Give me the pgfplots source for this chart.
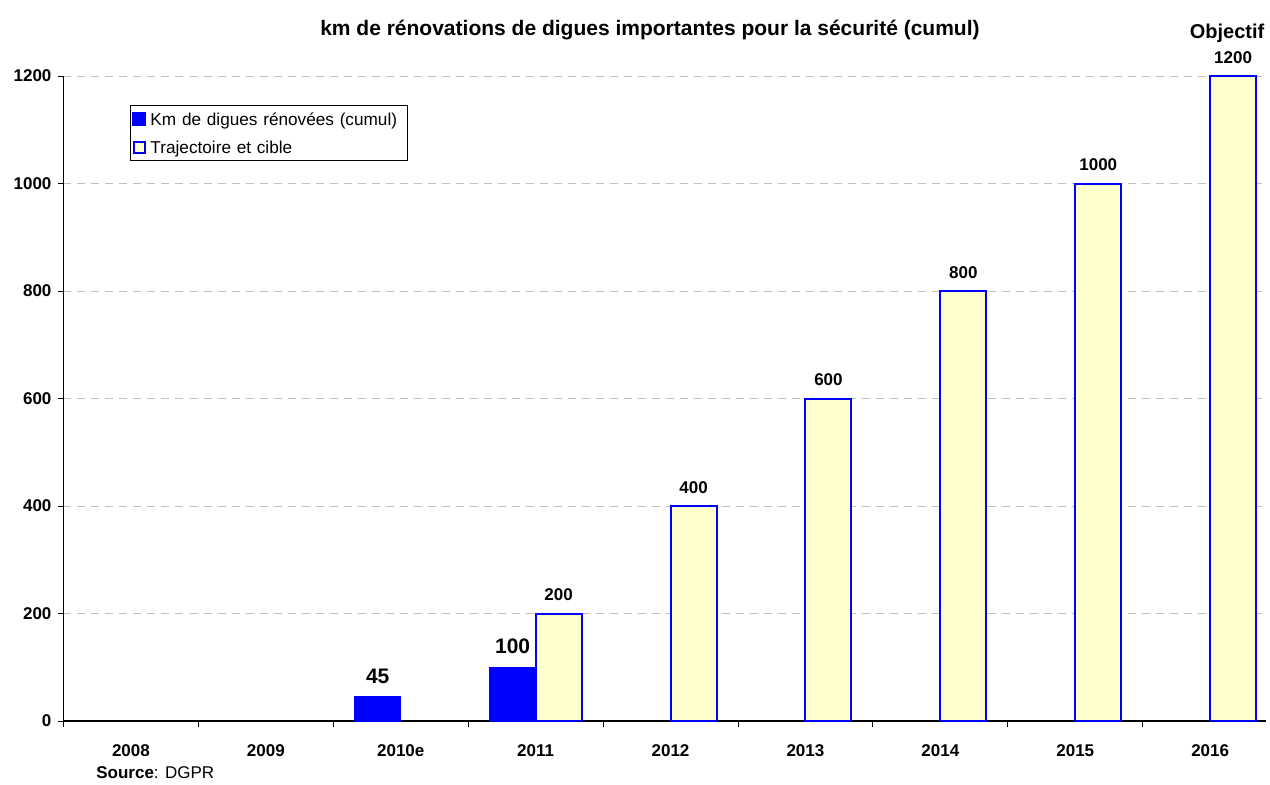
\documentclass[border=0pt]{standalone}
\usepackage{pgfplots}
\pgfplotsset{compat=1.18}
\usepackage{fontspec}
\setmainfont{Liberation Sans}
\definecolor{barblue}{RGB}{0,0,255}
\definecolor{baryellow}{RGB}{255,255,204}
\definecolor{gridgray}{RGB}{192,192,192}
\begin{document}
\begin{tikzpicture}
\begin{axis}[
  x=67.45pt, y=0.26875pt,
  xmin=-0.5, xmax=8.414, ymin=0, ymax=1200,
  axis x line*=bottom, axis y line*=left,
  axis line style={black, line width=0.6pt},
  ybar=0pt, bar width=23pt,
  ytick={0,200,...,1200},
  ymajorgrids, grid style={gridgray, dash pattern=on 4pt off 3pt, line width=0.5pt},
  xtick={0,...,8},
  xticklabels={2008,2009,2010e,2011,2012,2013,2014,2015,2016},
  minor xtick={-0.5,0.5,...,7.5},
  major x tick style={draw=none},
  tick align=outside,
  major tick length=2.5pt, minor tick length=3pt,
  tick style={black, line width=0.5pt},
  xtick pos=bottom, ytick pos=left,
  tick label style={font=\fontsize{8.5}{10}\selectfont\bfseries},
  /pgf/number format/assume math mode=true,
  /pgf/number format/1000 sep={},
  xticklabel style={yshift=-6pt},
  clip=false,
  legend style={at={(rel axis cs:0.0553,0.955)}, anchor=north west,
    draw=black, line width=0.5pt, font=\fontsize{8.6}{10}\selectfont,
    inner xsep=1pt, inner ysep=0.5pt, row sep=1.5pt, text width=125.5pt,
    cells={anchor=west}, nodes={text height=7.6pt, text depth=1pt}},
]
\addplot[fill=barblue, draw=barblue, bar shift=-11.5pt,
  legend image code/.code={\fill[barblue] (0pt,-3.25pt) rectangle (6.5pt,3.25pt);},
  nodes near coords,
  every node near coord/.append style={font=\fontsize{10.5}{12}\selectfont\bfseries, black, yshift=3pt}]
  coordinates {(2,45) (3,100)};
\addlegendentry{Km de digues rénovées (cumul)}
\addplot[fill=baryellow, draw=barblue, line width=1pt, bar shift=11.5pt,
  legend image code/.code={\draw[fill=baryellow,draw=barblue,line width=0.8pt] (0.6pt,-2.75pt) rectangle (6pt,2.75pt);},
  nodes near coords,
  every node near coord/.append style={font=\fontsize{8.5}{10}\selectfont\bfseries, black, yshift=2.5pt}]
  coordinates {(3,200) (4,400) (5,600) (6,800) (7,1000) (8,1200)};
\addlegendentry{Trajectoire et cible}
\node[font=\fontsize{10.5}{12}\selectfont\bfseries] at (rel axis cs:0.4877,1.0713) {km de rénovations de digues importantes pour la sécurité (cumul)};
\node[font=\fontsize{10}{12}\selectfont\bfseries] at (axis cs:8.125,1280) {Objectif};
\node[anchor=west, inner sep=0pt, font=\fontsize{8.5}{10}\selectfont] at (rel axis cs:0.027,-0.0806) {\textbf{Source}: DGPR};
\end{axis}
\pgfresetboundingbox
\useasboundingbox (-31.75pt,-31.5pt) rectangle (603.25pt,360.5pt);
\end{tikzpicture}
\end{document}
